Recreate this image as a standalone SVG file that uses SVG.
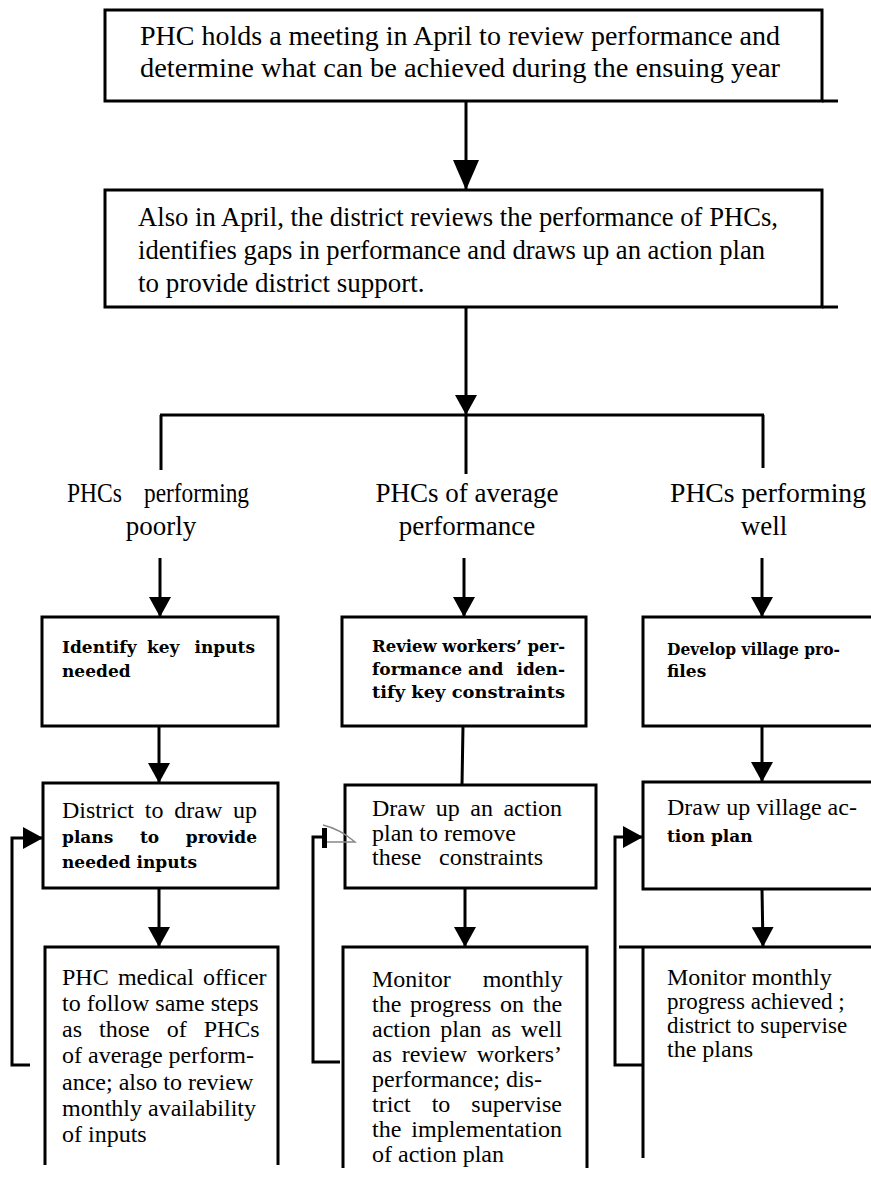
<svg xmlns="http://www.w3.org/2000/svg" width="871" height="1178" viewBox="0 0 871 1178">
<style>
.box{fill:none;stroke:#000;stroke-width:3}
.ln{fill:none;stroke:#000;stroke-width:3}
.t{font-family:"Liberation Serif","Times New Roman",serif;font-size:24px;fill:#000}
.b{font-family:"DejaVu Serif","Liberation Serif",serif;font-weight:bold;font-size:17px;fill:#000}
.big{font-size:27px}
.lab{font-size:27px}
.sm{font-size:23px}
</style>
<defs>
<marker id="ah" viewBox="0 0 20 22" refX="20" refY="11" markerWidth="20" markerHeight="22" orient="auto" markerUnits="userSpaceOnUse"><path d="M0,0 L20,11 L0,22 Z" fill="#000"/></marker>
<marker id="ahL" viewBox="0 0 30 26" refX="30" refY="13" markerWidth="30" markerHeight="26" orient="auto" markerUnits="userSpaceOnUse"><path d="M0,0 L30,13 L0,26 Z" fill="#000"/></marker>
</defs>

<g id="n1">
<rect class="box" x="105" y="10" width="717" height="91"/>
<line class="ln" x1="822" y1="101" x2="838" y2="101"/>
<text class="t big" x="140" y="45" textLength="640" lengthAdjust="spacingAndGlyphs">PHC holds a meeting in April to review performance and</text>
<text class="t big" x="140" y="77" textLength="640" lengthAdjust="spacingAndGlyphs">determine what can be achieved during the ensuing year</text>
</g>

<g id="n2">
<rect class="box" x="105" y="190" width="717" height="117"/>
<line class="ln" x1="822" y1="307" x2="838" y2="307"/>
<text class="t big" x="138" y="226" textLength="640" lengthAdjust="spacingAndGlyphs">Also in April, the district reviews the performance of PHCs,</text>
<text class="t big" x="138" y="259" textLength="627" lengthAdjust="spacingAndGlyphs">identifies gaps in performance and draws up an action plan</text>
<text class="t big" x="138" y="292">to provide district support.</text>
</g>

<g id="lab-poor">
<text class="t lab" y="502"><tspan x="67" textLength="55" lengthAdjust="spacingAndGlyphs">PHCs</tspan><tspan x="144" textLength="105" lengthAdjust="spacingAndGlyphs">performing</tspan></text>
<text class="t lab" x="161" y="535" text-anchor="middle">poorly</text>
</g>
<g id="lab-avg">
<text class="t lab" x="467" y="502" text-anchor="middle">PHCs of average</text>
<text class="t lab" x="467" y="535" text-anchor="middle">performance</text>
</g>
<g id="lab-well">
<text class="t lab" x="670" y="502" textLength="196" lengthAdjust="spacingAndGlyphs">PHCs performing</text>
<text class="t lab" x="764" y="535" text-anchor="middle">well</text>
</g>

<g id="a1">
<rect class="box" x="42" y="617" width="236" height="109"/>
<text class="b" y="653"><tspan x="62">Identify</tspan><tspan x="147">key</tspan><tspan x="255" text-anchor="end">inputs</tspan></text>
<text class="b" x="62" y="677">needed</text>
</g>
<g id="a2">
<rect class="box" x="43" y="783" width="235" height="105"/>
<text class="t" x="62" y="818" style="word-spacing:4.8px">District to draw up</text>
<text class="b" y="843"><tspan x="62">plans</tspan><tspan x="140">to</tspan><tspan x="257" text-anchor="end">provide</tspan></text>
<text class="b" x="62" y="868">needed inputs</text>
</g>
<g id="a3">
<path class="box" d="M45,1165 V947 H278 V1165"/>
<text class="t" x="62" y="985" style="word-spacing:3.2px">PHC medical officer</text>
<text class="t" x="62" y="1011">to follow same steps</text>
<text class="t" x="62" y="1037" style="word-spacing:11px">as those of PHCs</text>
<text class="t" x="62" y="1063">of average perform-</text>
<text class="t" x="62" y="1090">ance; also to review</text>
<text class="t" x="62" y="1116">monthly availability</text>
<text class="t" x="62" y="1142">of inputs</text>
</g>

<g id="b1">
<rect class="box" x="342" y="617" width="244" height="109"/>
<text class="b" x="372" y="652" textLength="193" lengthAdjust="spacingAndGlyphs">Review workers’ per-</text>
<text class="b" y="675"><tspan x="372">formance</tspan><tspan x="468">and</tspan><tspan x="565" text-anchor="end">iden-</tspan></text>
<text class="b" x="372" y="698" textLength="193" lengthAdjust="spacingAndGlyphs">tify key constraints</text>
</g>
<g id="b2">
<rect class="box" x="345" y="785" width="251" height="103"/>
<text class="t" x="372" y="816" style="word-spacing:4.5px">Draw up an action</text>
<text class="t" x="372" y="841">plan to remove</text>
<text class="t" x="372" y="865" style="word-spacing:11.7px">these constraints</text>
</g>
<g id="b3">
<path class="box" d="M343,1168 V947 H587 V1168"/>
<text class="t" x="372" y="987" style="word-spacing:26px">Monitor monthly</text>
<text class="t" x="372" y="1012" style="word-spacing:2.7px">the progress on the</text>
<text class="t" x="372" y="1037" style="word-spacing:3.6px">action plan as well</text>
<text class="t" x="372" y="1062" style="word-spacing:3.7px">as review workers’</text>
<text class="t" x="372" y="1087">performance; dis-</text>
<text class="t" x="372" y="1112" style="word-spacing:15px">trict to supervise</text>
<text class="t" x="372" y="1137" style="word-spacing:4px">the implementation</text>
<text class="t" x="372" y="1162">of action plan</text>
</g>

<g id="c1">
<rect class="box" x="643" y="617" width="250" height="109"/>
<text class="b" x="667" y="655" textLength="173" lengthAdjust="spacingAndGlyphs">Develop village pro-</text>
<text class="b" x="667" y="677">files</text>
</g>
<g id="c2">
<rect class="box" x="643" y="782" width="250" height="107"/>
<text class="t" x="667" y="815">Draw up village ac-</text>
<text class="b" x="667" y="842">tion plan</text>
</g>
<g id="c3">
<path class="box" d="M619,947 H871 M643,947 V1158"/>
<text class="t" x="667" y="985">Monitor monthly</text>
<text class="t sm" x="667" y="1009">progress achieved ;</text>
<text class="t sm" x="667" y="1033">district to supervise</text>
<text class="t" x="667" y="1057">the plans</text>
</g>

<g id="connectors">
<line class="ln" x1="466" y1="101" x2="466" y2="190" marker-end="url(#ahL)"/>
<line class="ln" x1="466" y1="307" x2="466" y2="415" marker-end="url(#ah)"/>
<line class="ln" x1="160" y1="415" x2="764" y2="415" stroke-width="4"/>
<line class="ln" x1="161" y1="415" x2="161" y2="470"/>
<line class="ln" x1="466" y1="415" x2="466" y2="474"/>
<line class="ln" x1="763" y1="415" x2="763" y2="468"/>
<line class="ln" x1="160" y1="558" x2="160" y2="617" marker-end="url(#ah)"/>
<line class="ln" x1="464" y1="558" x2="464" y2="617" marker-end="url(#ah)"/>
<line class="ln" x1="762" y1="558" x2="762" y2="617" marker-end="url(#ah)"/>
<line class="ln" x1="159" y1="726" x2="159" y2="783" marker-end="url(#ah)"/>
<line class="ln" x1="463" y1="726" x2="462" y2="785" stroke-width="2"/>
<line class="ln" x1="762" y1="726" x2="762" y2="782" marker-end="url(#ah)"/>
<line class="ln" x1="159" y1="888" x2="159" y2="947" marker-end="url(#ah)"/>
<line class="ln" x1="465" y1="888" x2="465" y2="947" marker-end="url(#ah)"/>
<line class="ln" x1="762" y1="889" x2="763" y2="947" marker-end="url(#ah)"/>
<path class="ln" d="M30,1065 H12 V838 H43" marker-end="url(#ah)"/>
<path class="ln" d="M340,1062 H313 V837 H323"/>
<rect x="322" y="828" width="5" height="20" fill="#000"/>
<path d="M323,825 Q340,829 355,842 L327,842" fill="none" stroke="#888" stroke-width="1.5"/>
<path class="ln" d="M643,1065 H615 V837 H643" stroke-width="4" marker-end="url(#ah)"/>
</g>
</svg>
